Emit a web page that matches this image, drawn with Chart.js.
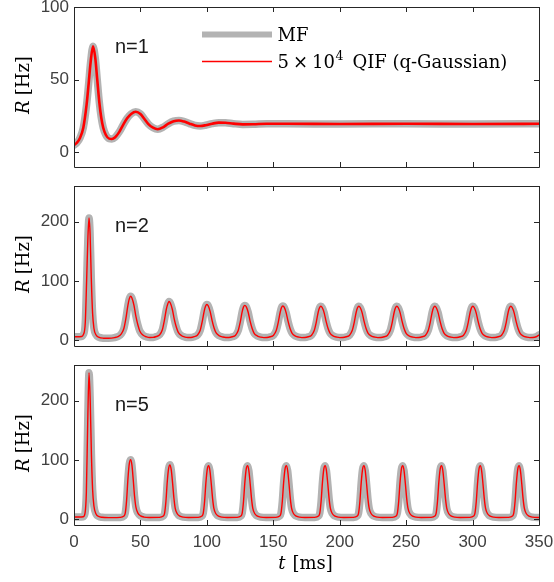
<!DOCTYPE html>
<html>
<head>
<meta charset="utf-8">
<script src="https://cdn.jsdelivr.net/npm/chart.js@4.4.1/dist/chart.umd.min.js"></script>
<style>
  html, body { margin: 0; padding: 0; background: #fff; overflow: hidden; }
  #wrap { position: relative; width: 554px; height: 582px; overflow: hidden; background: #fff; }
  canvas { position: absolute; left: 0; }
</style>
</head>
<body>
<div id="wrap">
  <canvas id="c1"></canvas>
  <canvas id="c2"></canvas>
  <canvas id="c3"></canvas>
</div>
<script>
// tick positions
const xTicks = [0, 50, 100, 150, 200, 250, 300, 350];
const yTicks1 = [0, 50, 100];
const yTicks2 = [0, 100, 200];
const yTicks3 = [0, 100, 200];

// n=1 : damped oscillation to a steady rate
const t1 = [0, 2, 4.5, 7, 9.5, 11, 12.5, 14.3, 16, 17.5, 19, 20.5, 22, 24, 26.5,
  28.5, 31, 34, 37, 40, 43, 46.5, 50, 53, 56, 59.5, 63, 67, 71, 75, 79, 83, 87,
  91, 95, 99, 104, 109, 114, 120, 127, 135, 145, 160, 200, 250, 300, 350];
const r1 = [5, 6.5, 10, 17, 33, 47, 62, 73, 65, 50, 35, 24, 17, 12, 9.5,
  9.3, 10.5, 14, 19, 23.5, 26.5, 28, 26.5, 23, 19.5, 17, 16, 17.3, 19.8, 21.5, 22, 21.2, 19.8,
  18.6, 18.2, 18.7, 19.8, 20.5, 20.4, 19.8, 19.3, 19.4, 19.7, 19.7, 19.6, 19.7, 19.6, 19.7];

// n=2 : periodic bursts
const t2 = [
  0, 3, 5.5, 7, 8.5, 9.5, 10.5, 11.3, 12.1, 13, 14, 15, 16.5, 18.5, 22, 26,
  30.6, 33.1, 35.6, 37.6, 39.1, 40.6, 41.6, 42.6, 43.6, 45.1, 46.6, 48.1, 49.6, 52.1, 54.6, 57,
  59.5, 62, 64.5, 66.5, 68, 69.5, 70.5, 71.5, 72.5, 74, 75.5, 77, 78.5, 81, 83.5, 85.8,
  88, 90.5, 93, 95, 96.5, 98, 99, 100, 101, 102.5, 104, 105.5, 107, 109.5, 112, 114.3,
  116.6, 119.1, 121.6, 123.6, 125.1, 126.6, 127.6, 128.6, 129.6, 131.1, 132.6, 134.1, 135.6, 138.1, 140.6, 142.9,
  145.2, 147.7, 150.2, 152.2, 153.7, 155.2, 156.2, 157.2, 158.2, 159.7, 161.2, 162.7, 164.2, 166.7, 169.2, 171.5,
  173.8, 176.3, 178.8, 180.8, 182.3, 183.8, 184.8, 185.8, 186.8, 188.3, 189.8, 191.3, 192.8, 195.3, 197.8, 200.1,
  202.4, 204.9, 207.4, 209.4, 210.9, 212.4, 213.4, 214.4, 215.4, 216.9, 218.4, 219.9, 221.4, 223.9, 226.4, 228.7,
  231.0, 233.5, 236.0, 238.0, 239.5, 241.0, 242.0, 243.0, 244.0, 245.5, 247.0, 248.5, 250.0, 252.5, 255.0, 257.3,
  259.6, 262.1, 264.6, 266.6, 268.1, 269.6, 270.6, 271.6, 272.6, 274.1, 275.6, 277.1, 278.6, 281.1, 283.6, 285.9,
  288.2, 290.7, 293.2, 295.2, 296.7, 298.2, 299.2, 300.2, 301.2, 302.7, 304.2, 305.7, 307.2, 309.7, 312.2, 314.5,
  316.8, 319.3, 321.8, 323.8, 325.3, 326.8, 327.8, 328.8, 329.8, 331.3, 332.8, 334.3, 335.8, 338.3, 340.8, 343.1,
  345.4, 347.9, 350];
const r2 = [
  5.5, 5.5, 6, 9, 30, 100, 175, 206, 180, 105, 45, 20, 9, 5, 3.2, 3,
  4.2, 6, 10.5, 20, 37, 59, 69.5, 74, 71, 59, 40, 25.5, 15, 8, 5.4, 4.4,
  4.5, 6, 9, 17.5, 33, 52, 60.5, 65, 62.5, 52, 35, 22, 13, 7.3, 5.1, 4.3,
  4.3, 5.7, 8.5, 16.5, 31, 49, 57, 60, 58, 48, 32.5, 20, 12, 7, 5.1, 4.3,
  4.3, 5.6, 8.3, 16, 30, 48, 56, 58.5, 56.5, 47, 31.5, 19.5, 11.5, 6.8, 4.9, 4.2,
  4.3, 5.6, 8.3, 16, 29.5, 47, 55, 57.5, 55.5, 46, 31, 19, 11.5, 6.7, 4.9, 4.2,
  4.3, 5.6, 8.3, 16, 29.5, 47, 54.5, 57, 55, 46, 31, 19, 11.5, 6.7, 4.9, 4.2,
  4.3, 5.6, 8.3, 16, 29.5, 47, 54.5, 57, 55, 46, 31, 19, 11.5, 6.7, 4.9, 4.2,
  4.3, 5.6, 8.3, 16, 29.5, 47, 54.5, 57, 55, 46, 31, 19, 11.5, 6.7, 4.9, 4.2,
  4.3, 5.6, 8.3, 16, 29.5, 47, 54.5, 57, 55, 46, 31, 19, 11.5, 6.7, 4.9, 4.2,
  4.3, 5.6, 8.3, 16, 29.5, 47, 54.5, 57, 55, 46, 31, 19, 11.5, 6.7, 4.9, 4.2,
  4.3, 5.6, 8.3, 16, 29.5, 47, 54.5, 57, 55, 46, 31, 19, 11.5, 6.7, 4.9, 4.2,
  4.3, 5.6, 8.5];

// n=5 : sharper bursts
const t3 = [
  0, 4, 7, 8.3, 9.3, 10.3, 11.3, 12.2, 13.1, 14, 15, 16.5, 18.5, 21, 26, 30,
  34.6, 37.6, 38.6, 39.6, 40.6, 41.6, 42.6, 43.6, 44.6, 45.6, 46.6, 48.1, 50.1, 52.6, 56.6,
  64.2, 67.2, 68.2, 69.2, 70.2, 71.2, 72.2, 73.2, 74.2, 75.2, 76.2, 77.7, 79.7, 82.2, 86.2,
  93.3, 96.3, 97.3, 98.3, 99.3, 100.3, 101.3, 102.3, 103.3, 104.3, 105.3, 106.8, 108.8, 111.3, 115.3,
  122.6, 125.6, 126.6, 127.6, 128.6, 129.6, 130.6, 131.6, 132.6, 133.6, 134.6, 136.1, 138.1, 140.6, 144.6,
  151.8, 154.8, 155.8, 156.8, 157.8, 158.8, 159.8, 160.8, 161.8, 162.8, 163.8, 165.3, 167.3, 169.8, 173.8,
  181.0, 184.0, 185.0, 186.0, 187.0, 188.0, 189.0, 190.0, 191.0, 192.0, 193.0, 194.5, 196.5, 199.0, 203.0,
  210.2, 213.2, 214.2, 215.2, 216.2, 217.2, 218.2, 219.2, 220.2, 221.2, 222.2, 223.7, 225.7, 228.2, 232.2,
  239.4, 242.4, 243.4, 244.4, 245.4, 246.4, 247.4, 248.4, 249.4, 250.4, 251.4, 252.9, 254.9, 257.4, 261.4,
  268.6, 271.6, 272.6, 273.6, 274.6, 275.6, 276.6, 277.6, 278.6, 279.6, 280.6, 282.1, 284.1, 286.6, 290.6,
  297.8, 300.8, 301.8, 302.8, 303.8, 304.8, 305.8, 306.8, 307.8, 308.8, 309.8, 311.3, 313.3, 315.8, 319.8,
  327.0, 330.0, 331.0, 332.0, 333.0, 334.0, 335.0, 336.0, 337.0, 338.0, 339.0, 340.5, 342.5, 345.0, 349.0,
  350];
const r3 = [
  3.5, 3.5, 4, 10, 45, 160, 247, 200, 110, 50, 22, 9, 4.5, 3, 2.5, 2.5,
  2.8, 5, 10.5, 32, 68, 93, 100, 91, 66, 38, 20, 10, 5.5, 3.4, 2.7,
  2.8, 5, 10, 30, 63, 85, 91.5, 83, 61, 35.5, 18, 9, 5, 3.2, 2.6,
  2.8, 5, 10, 30, 62, 84, 90, 82, 60, 35, 18, 9, 5, 3.2, 2.6,
  2.8, 5, 10, 30, 62, 84, 90, 82, 60, 35, 18, 9, 5, 3.2, 2.6,
  2.8, 5, 10, 30, 62, 84, 90, 82, 60, 35, 18, 9, 5, 3.2, 2.6,
  2.8, 5, 10, 30, 62, 84, 90, 82, 60, 35, 18, 9, 5, 3.2, 2.6,
  2.8, 5, 10, 30, 62, 84, 90, 82, 60, 35, 18, 9, 5, 3.2, 2.6,
  2.8, 5, 10, 30, 62, 84, 90, 82, 60, 35, 18, 9, 5, 3.2, 2.6,
  2.8, 5, 10, 30, 62, 84, 90, 82, 60, 35, 18, 9, 5, 3.2, 2.6,
  2.8, 5, 10, 30, 62, 84, 90, 82, 60, 35, 18, 9, 5, 3.2, 2.6,
  2.8, 5, 10, 30, 62, 84, 90, 82, 60, 35, 18, 9, 5, 3.2, 2.6,
  2.7];

const GRAY = 'rgb(179,179,179)';
const RED = 'rgb(255,0,0)';
const AXIS = '#262626';
const TICK_TXT = '#404040';

// page geometry of the axes boxes
const PLOT_L = 74, PLOT_R = 539, CANVAS_W = 600;
const PAD_T = 40, PAD_B = 20, X_H = 60;

const panels = [
  { id: 'c1', top: 7, bottom: 167, t: t1, r: r1, yMin: -10, yMax: 100, yTicks: yTicks1, tag: 'n=1', redWidth: 2.6, showX: false, legend: true },
  { id: 'c2', top: 186, bottom: 346, t: t2, r: r2, yMin: -10, yMax: 260, yTicks: yTicks2, tag: 'n=2', redWidth: 1.4, showX: false },
  { id: 'c3', top: 365, bottom: 525, t: t3, r: r3, yMin: -10, yMax: 260, yTicks: yTicks3, tag: 'n=5', redWidth: 1.4, showX: true }
];

function series(ts, rs) {
  return ts.map((t, i) => ({ x: t, y: rs[i] }));
}

// draws a few pieces of text side by side, each with its own font
function drawRuns(ctx, runs, x, y) {
  let cx = x;
  runs.forEach(run => {
    ctx.font = run.font;
    ctx.fillText(run.text, cx, y + (run.dy || 0));
    cx += ctx.measureText(run.text).width + (run.gap || 0);
  });
}
function runsWidth(ctx, runs) {
  let w = 0;
  runs.forEach(run => { ctx.font = run.font; w += ctx.measureText(run.text).width + (run.gap || 0); });
  return w;
}

// MATLAB style box, inward ticks, panel tag, axis labels and legend
const matlabAxes = {
  id: 'matlabAxes',
  afterDatasetsDraw(chart, args, opts) {
    const { ctx, chartArea: a, scales: { x, y } } = chart;
    const off = opts.off; // page y = canvas y + off
    ctx.save();
    ctx.strokeStyle = AXIS;
    ctx.lineWidth = 1;
    ctx.beginPath();
    ctx.rect(Math.round(a.left) + 0.5, Math.round(a.top) + 0.5, Math.round(a.right - a.left), Math.round(a.bottom - a.top));
    const tl = 5;
    xTicks.forEach(v => {
      const px = Math.round(x.getPixelForValue(v)) + 0.5;
      ctx.moveTo(px, a.bottom); ctx.lineTo(px, a.bottom - tl);
      ctx.moveTo(px, a.top); ctx.lineTo(px, a.top + tl);
    });
    opts.yTicks.forEach(v => {
      const py = Math.round(y.getPixelForValue(v)) + 0.5;
      ctx.moveTo(a.left, py); ctx.lineTo(a.left + tl, py);
      ctx.moveTo(a.right, py); ctx.lineTo(a.right - tl, py);
    });
    ctx.stroke();

    // n=.. tag
    ctx.fillStyle = '#1a1a1a';
    ctx.textBaseline = 'alphabetic';
    ctx.textAlign = 'left';
    ctx.font = '20px "Liberation Sans"';
    ctx.fillText(opts.tag, 115, a.top + 46);

    // y label  R [Hz]
    const ylab = [
      { text: 'R', font: 'italic 18px "DejaVu Serif"', gap: 5 },
      { text: '[Hz]', font: '18px "DejaVu Serif"' }
    ];
    ctx.save();
    ctx.translate(29, (a.top + a.bottom) / 2 - 2);
    ctx.rotate(-Math.PI / 2);
    ctx.fillStyle = '#000';
    drawRuns(ctx, ylab, -runsWidth(ctx, ylab) / 2, 0);
    ctx.restore();

    // x label  t [ms]
    if (opts.showX) {
      const xlab = [
        { text: 't', font: 'italic 18px "DejaVu Serif"', gap: 7 },
        { text: '[ms]', font: '18px "DejaVu Serif"' }
      ];
      ctx.fillStyle = '#000';
      drawRuns(ctx, xlab, 305.5 - runsWidth(ctx, xlab) / 2, 569 - off);
    }

    // legend
    if (opts.legend) {
      ctx.lineCap = 'butt';
      ctx.strokeStyle = GRAY;
      ctx.lineWidth = 6;
      ctx.beginPath();
      ctx.moveTo(202, 34.5 - off);
      ctx.lineTo(272, 34.5 - off);
      ctx.stroke();
      ctx.strokeStyle = RED;
      ctx.lineWidth = 1.4;
      ctx.beginPath();
      ctx.moveTo(202, 61.5 - off);
      ctx.lineTo(272, 61.5 - off);
      ctx.stroke();
      ctx.fillStyle = '#000';
      drawRuns(ctx, [{ text: 'MF', font: '18px "DejaVu Serif"' }], 277.5, 40.5 - off);
      drawRuns(ctx, [
        { text: '5', font: '18px "DejaVu Serif"', gap: 4 },
        { text: '×', font: '18px "DejaVu Serif"', gap: 4 },
        { text: '10', font: '18px "DejaVu Serif"', gap: 0.5 },
        { text: '4', font: '12.5px "DejaVu Serif"', dy: -7.5, gap: 9 },
        { text: 'QIF (q-Gaussian)', font: '18px "DejaVu Serif"' }
      ], 277.5, 67.5 - off);
    }
    ctx.restore();
  }
};

panels.forEach(p => {
  const canvas = document.getElementById(p.id);
  const h = PAD_T + (p.bottom - p.top) + PAD_B + X_H;
  const off = p.top - PAD_T;
  canvas.width = CANVAS_W;
  canvas.height = h;
  canvas.style.width = CANVAS_W + 'px';
  canvas.style.height = h + 'px';
  canvas.style.top = off + 'px';

  new Chart(canvas, {
    type: 'line',
    data: {
      datasets: [
        {
          label: 'MF',
          data: series(p.t, p.r),
          borderColor: GRAY,
          borderWidth: 7.5,
          order: 2,
          clip: 0
        },
        {
          label: '5 × 10^4 QIF (q-Gaussian)',
          data: series(p.t, p.r),
          borderColor: RED,
          borderWidth: p.redWidth,
          order: 1,
          clip: 0
        }
      ]
    },
    options: {
      responsive: false,
      animation: false,
      devicePixelRatio: 1,
      layout: { padding: { left: 0, right: CANVAS_W - PLOT_R, top: PAD_T, bottom: PAD_B } },
      elements: {
        point: { radius: 0 },
        line: { cubicInterpolationMode: 'monotone', borderJoinStyle: 'round', borderCapStyle: 'round', fill: false }
      },
      plugins: {
        legend: { display: false },
        tooltip: { enabled: false },
        matlabAxes: { off: off, yTicks: p.yTicks, tag: p.tag, showX: p.showX, legend: !!p.legend }
      },
      scales: {
        x: {
          type: 'linear',
          min: 0,
          max: 350,
          grid: { display: false, drawTicks: false },
          border: { display: false },
          ticks: {
            display: p.showX,
            color: TICK_TXT,
            padding: 7,
            maxRotation: 0,
            font: { family: '"Liberation Sans"', size: 17 }
          },
          afterBuildTicks: s => { s.ticks = xTicks.map(v => ({ value: v })); },
          afterFit: s => { s.height = X_H; }
        },
        y: {
          type: 'linear',
          min: p.yMin,
          max: p.yMax,
          grid: { display: false, drawTicks: false },
          border: { display: false },
          ticks: {
            color: TICK_TXT,
            padding: 5,
            font: { family: '"Liberation Sans"', size: 17 }
          },
          afterBuildTicks: s => { s.ticks = p.yTicks.map(v => ({ value: v })); },
          afterFit: s => { s.width = PLOT_L; }
        }
      }
    },
    plugins: [matlabAxes]
  });
});
</script>
</body>
</html>
